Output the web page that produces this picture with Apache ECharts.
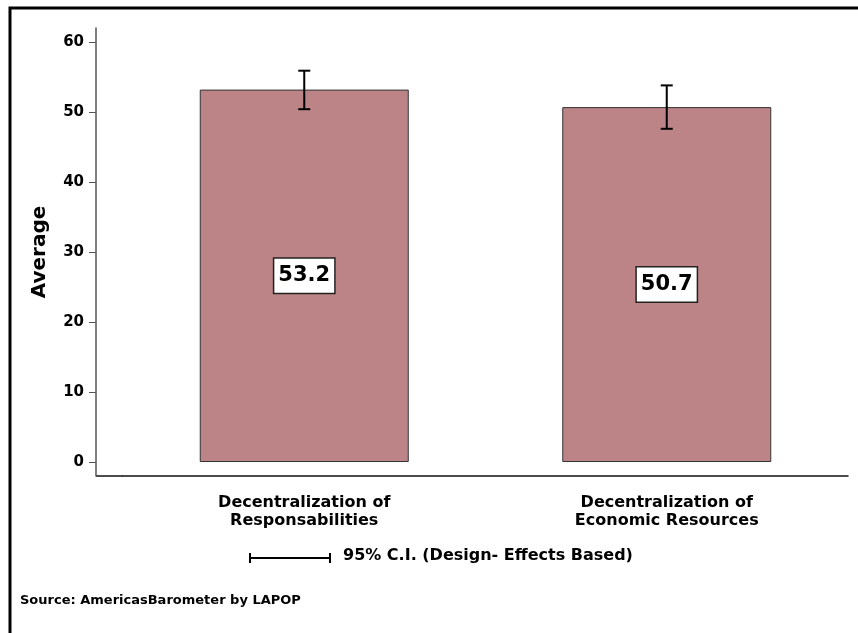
<!DOCTYPE html>
<html>
<head>
<meta charset="utf-8">
<script src="https://cdn.jsdelivr.net/npm/echarts@6/dist/echarts.min.js"></script>
<style>
  html, body { margin: 0; padding: 0; background: #fff; }
  #main { width: 858px; height: 633px; }
</style>
</head>
<body>
<div id="main"></div>
<script>
// categories and values
var categories = ['Decentralization of\nResponsabilities', 'Decentralization of\nEconomic Resources'];
var means = [53.2, 50.7];
var ciLow = [50.4, 47.6];
var ciHigh = [55.9, 53.8];
var yTicks = [0, 10, 20, 30, 40, 50, 60];

var font = '"DejaVu Sans", Verdana, sans-serif';
var chart = echarts.init(document.getElementById('main'));

var errData = [];
for (var i = 0; i < categories.length; i++) {
  errData.push([i, ciLow[i], ciHigh[i]]);
}

var option = {
  backgroundColor: '#fff',
  animation: false,
  grid: { left: 123, right: 10, top: 28, bottom: 157 },
  xAxis: {
    type: 'category',
    data: categories,
    axisLine: { onZero: false, lineStyle: { color: '#111', width: 1.5 } },
    axisTick: { alignWithLabel: true, length: 7, lineStyle: { color: '#444' } },
    axisLabel: {
      margin: 18,
      color: '#000',
      fontFamily: font,
      fontWeight: 'bold',
      fontSize: 16,
      lineHeight: 18
    }
  },
  yAxis: {
    type: 'value',
    min: -2,
    max: 62,
    offset: 27,
    name: 'Average',
    nameLocation: 'middle',
    nameGap: 46,
    nameTextStyle: { color: '#000', fontFamily: font, fontWeight: 'bold', fontSize: 20 },
    splitLine: { show: false },
    axisLine: { show: true, lineStyle: { color: '#555', width: 1.5 } },
    axisTick: { show: true, length: 7, customValues: yTicks, lineStyle: { color: '#555' } },
    axisLabel: {
      customValues: yTicks,
      margin: 12,
      color: '#000',
      fontFamily: font,
      fontWeight: 'bold',
      fontSize: 15
    }
  },
  series: [
    {
      type: 'bar',
      data: means,
      barWidth: 209,
      itemStyle: { color: '#bc8486', borderColor: '#333', borderWidth: 1 },
      label: {
        show: true,
        position: 'inside',
        formatter: function (p) { return p.value.toFixed(1); },
        color: '#000',
        fontFamily: font,
        fontWeight: 'bold',
        fontSize: 21,
        backgroundColor: '#fff',
        borderColor: '#222',
        borderWidth: 1.5,
        padding: [7, 4, 6, 4]
      }
    },
    {
      type: 'custom',
      data: errData,
      z: 5,
      renderItem: function (params, api) {
        var x = api.value(0);
        var lo = api.coord([x, api.value(1)]);
        var hi = api.coord([x, api.value(2)]);
        var cap = 6;
        var st = { stroke: '#000', lineWidth: 2 };
        return {
          type: 'group',
          children: [
            { type: 'line', shape: { x1: hi[0], y1: hi[1], x2: lo[0], y2: lo[1] }, style: st },
            { type: 'line', shape: { x1: hi[0] - cap, y1: hi[1], x2: hi[0] + cap, y2: hi[1] }, style: st },
            { type: 'line', shape: { x1: lo[0] - cap, y1: lo[1], x2: lo[0] + cap, y2: lo[1] }, style: st }
          ]
        };
      }
    }
  ],
  graphic: [
    // outer frame
    { type: 'rect', shape: { x: 10, y: 8, width: 900, height: 700 },
      style: { fill: null, stroke: '#000', lineWidth: 3 }, silent: true },
    // short piece of x axis line left of the category band
    { type: 'line', shape: { x1: 96, y1: 476, x2: 123, y2: 476 },
      style: { stroke: '#111', lineWidth: 1.5 } },
    // CI legend
    { type: 'line', shape: { x1: 250, y1: 558, x2: 330, y2: 558 }, style: { stroke: '#000', lineWidth: 2 } },
    { type: 'line', shape: { x1: 250, y1: 553, x2: 250, y2: 563 }, style: { stroke: '#000', lineWidth: 2 } },
    { type: 'line', shape: { x1: 330, y1: 553, x2: 330, y2: 563 }, style: { stroke: '#000', lineWidth: 2 } },
    { type: 'text', left: 343, top: 548,
      style: { text: '95% C.I. (Design- Effects Based)', fill: '#000', font: 'bold 16px ' + font } },
    { type: 'text', left: 20, top: 594,
      style: { text: 'Source: AmericasBarometer by LAPOP', fill: '#000', font: 'bold 13px ' + font } }
  ]
};

chart.setOption(option);
</script>
</body>
</html>
